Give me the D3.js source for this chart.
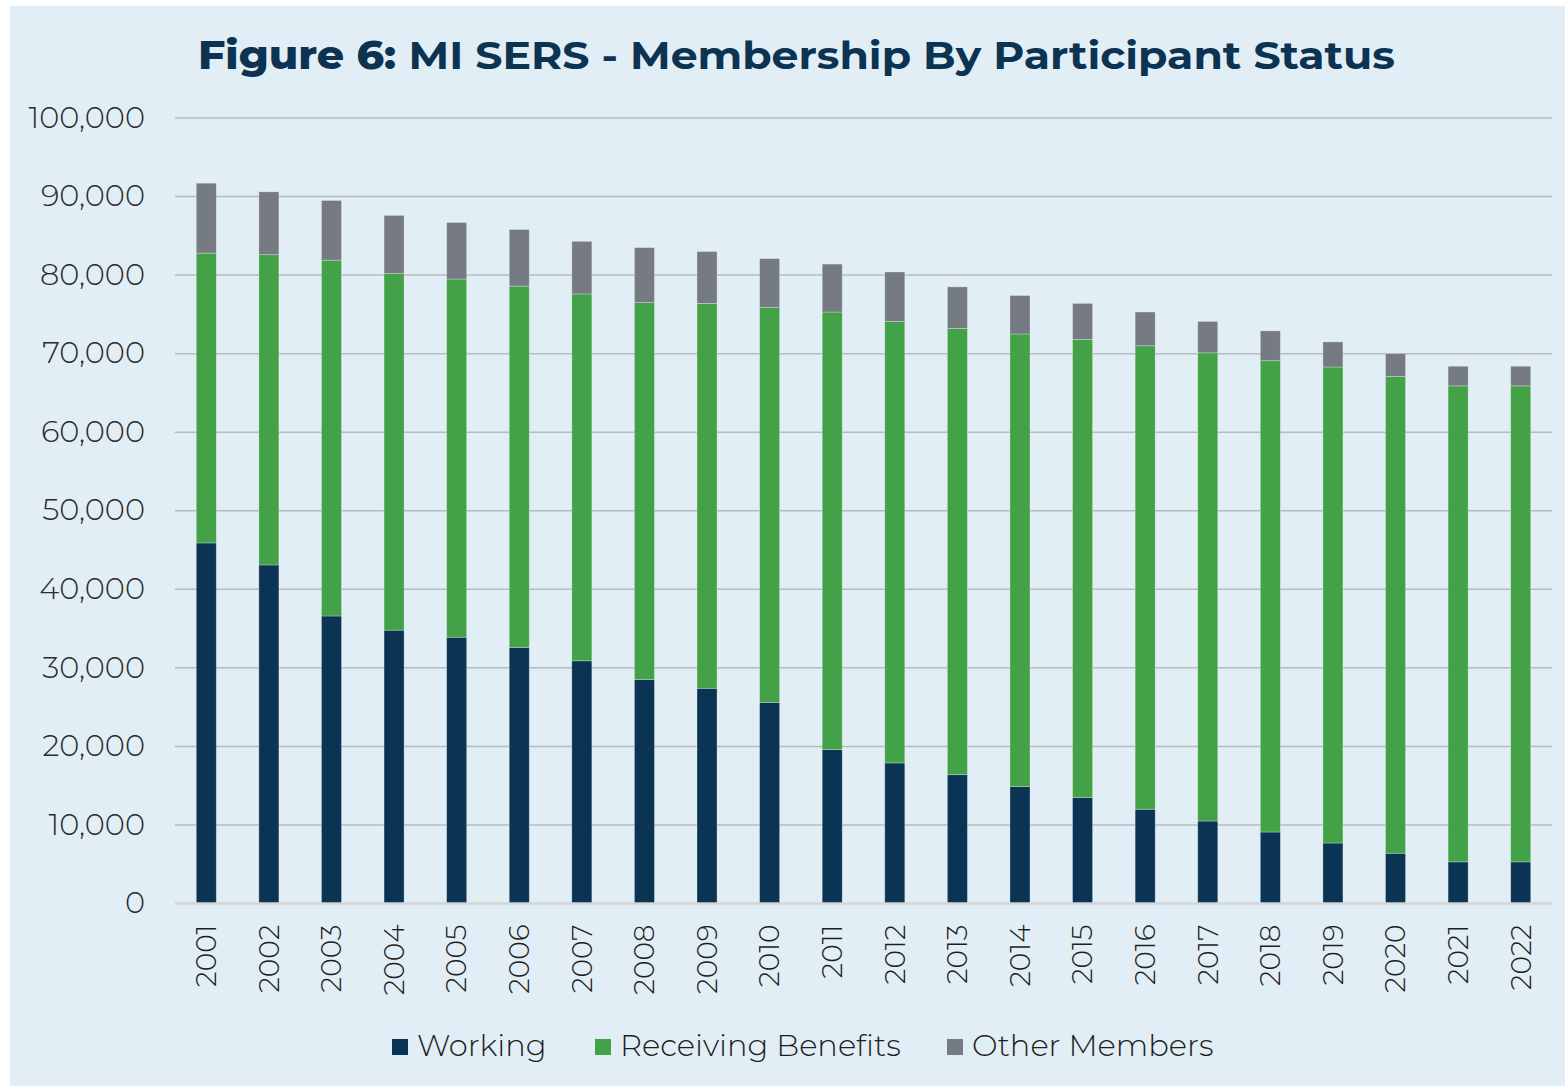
<!DOCTYPE html>
<html>
<head>
<meta charset="utf-8">
<script src="https://cdn.jsdelivr.net/npm/d3@7"></script>
<style>
  html, body { margin: 0; padding: 0; background: #ffffff; }
  svg { display: block; }
</style>
</head>
<body>
<svg id="chart" width="1565" height="1086"></svg>
<script>
const years = ["2001","2002","2003","2004","2005","2006","2007","2008","2009","2010","2011","2012","2013","2014","2015","2016","2017","2018","2019","2020","2021","2022"];
const working = [45900,43100,36600,34800,33900,32600,30900,28500,27400,25600,19600,17900,16400,14900,13500,12000,10500,9100,7700,6400,5300,5300];
const receivingTotal = [82800,82600,81900,80200,79500,78600,77600,76500,76400,75900,75300,74100,73200,72500,71800,71000,70100,69100,68300,67100,65900,65900];
const grandTotal = [91700,90600,89500,87600,86700,85800,84300,83500,83000,82100,81400,80400,78500,77400,76400,75300,74100,72900,71500,70000,68400,68400];
const receiving = receivingTotal.map((v, i) => v - working[i]);
const other = grandTotal.map((v, i) => v - receivingTotal[i]);
const seriesNames = ["Working", "Receiving Benefits", "Other Members"];
const seriesColors = ["#0b3454", "#43a147", "#767a82"];
const yTicks = [0,10000,20000,30000,40000,50000,60000,70000,80000,90000,100000];

const rows = years.map((y, i) => ({year: y, "Working": working[i], "Receiving Benefits": receiving[i], "Other Members": other[i]}));

const svg = d3.select("#chart");
svg.append("rect").attr("x", 10).attr("y", 6).attr("width", 1555).attr("height", 1080).attr("fill", "#e1eef5");

const m = {left: 175, right: 1552, top: 118, bottom: 903.5};
const x = d3.scaleBand().domain(years).range([m.left, m.right]).paddingInner(0.68).paddingOuter(0.34);
const y = d3.scaleLinear().domain([0, 100000]).range([m.bottom, m.top]);

// gridlines
svg.append("g").selectAll("line").data(yTicks.filter(t => t > 0)).join("line")
  .attr("x1", m.left).attr("x2", m.right)
  .attr("y1", d => y(d)).attr("y2", d => y(d))
  .attr("stroke", "#b7bbbe").attr("stroke-width", 1.5);

// y axis labels
const yAxis = d3.axisLeft(y).tickValues(yTicks).tickFormat(d3.format(",")).tickSize(0).tickPadding(30);
const gy = svg.append("g").attr("transform", `translate(${m.left},0)`).call(yAxis);
gy.select(".domain").remove();
gy.selectAll("text").attr("font-family", "Montserrat, 'Noto Sans', sans-serif").attr("font-weight", 300)
  .attr("font-size", 30.5).attr("fill", "#2b2b2b").attr("dy", "0.3em");

// stacked bars
const stack = d3.stack().keys(seriesNames)(rows);
svg.append("g").selectAll("g").data(stack).join("g")
  .attr("fill", (d, i) => seriesColors[i])
  .selectAll("rect").data(d => d).join("rect")
  .attr("x", d => x(d.data.year)).attr("width", x.bandwidth())
  .attr("y", d => y(d[1])).attr("height", d => y(d[0]) - y(d[1]))
  .attr("stroke", "rgba(255,255,255,0.35)").attr("stroke-width", 0.8);

// baseline
svg.append("line").attr("x1", m.left).attr("x2", m.right).attr("y1", m.bottom).attr("y2", m.bottom)
  .attr("stroke", "#d3d5d6").attr("stroke-width", 2.5);

// x axis labels
const xAxis = d3.axisBottom(x).tickSize(0).tickPadding(0);
const gx = svg.append("g").attr("transform", `translate(0,${m.bottom})`).call(xAxis);
gx.select(".domain").remove();
gx.selectAll("text")
  .attr("font-family", "Montserrat, 'Noto Sans', sans-serif").attr("font-weight", 300)
  .attr("font-size", 28).attr("fill", "#1e1e1e")
  .attr("text-anchor", "end").attr("dy", "0.35em").attr("y", 0)
  .attr("transform", "translate(0,21) rotate(-90)");

// title
const title = svg.append("text").attr("x", 198).attr("y", 69)
  .attr("font-family", "Montserrat, 'Open Sans', 'Noto Sans', sans-serif").attr("font-size", 39)
  .attr("fill", "#0d3352").attr("textLength", 1197).attr("lengthAdjust", "spacingAndGlyphs");
title.append("tspan").attr("font-weight", 800).text("Figure 6: ");
title.append("tspan").attr("font-weight", 700).text("MI SERS - Membership By Participant Status");

// legend
const legendX = [392, 595, 947];
const lg = svg.append("g").selectAll("g").data(seriesNames).join("g")
  .attr("transform", (d, i) => `translate(${legendX[i]},1039)`);
lg.append("rect").attr("width", 16).attr("height", 16).attr("fill", (d, i) => seriesColors[i]);
lg.append("text").attr("x", 25).attr("y", 8).attr("dy", "0.3em")
  .attr("font-family", "Montserrat, 'Noto Sans', sans-serif").attr("font-weight", 300)
  .attr("font-size", 30.5).attr("fill", "#1e1e1e").text(d => d);
</script>
</body>
</html>
